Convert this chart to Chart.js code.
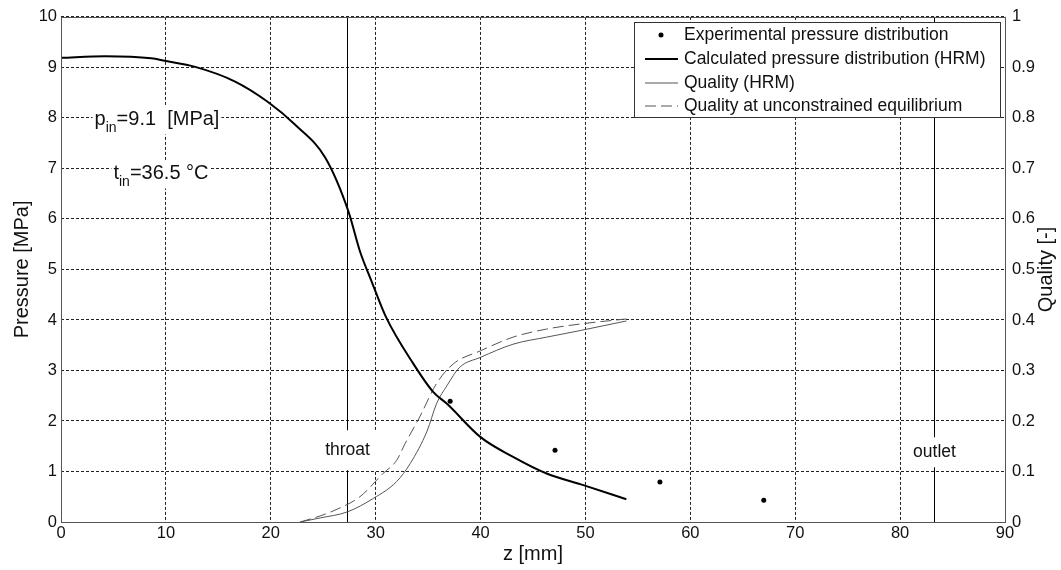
<!DOCTYPE html>
<html>
<head>
<meta charset="utf-8">
<script src="https://cdn.jsdelivr.net/npm/chart.js@4/dist/chart.umd.min.js"></script>
<style>
  html, body { margin: 0; padding: 0; background: #fff; }
  #wrap { width: 1061px; height: 570px; }
</style>
</head>
<body>
<div id="wrap"><canvas id="nozzle-chart" width="1061" height="570"></canvas></div>
<script>
// calculated pressure distribution (HRM)
const zPressure = [0, 4.2, 8.6, 9.9, 12.8, 16.6, 19.7, 22.3, 25.2, 27.4, 28.5, 29.6, 31.0, 33.6, 35.5, 36.8, 40.0, 43.1, 46.3, 49.8, 53.9]
const pressureHRM = [9.19, 9.22, 9.18, 9.13, 9.01, 8.72, 8.32, 7.87, 7.21, 6.15, 5.36, 4.77, 4.05, 3.13, 2.57, 2.34, 1.68, 1.29, 0.96, 0.73, 0.45]

// experimental pressure
const zExperiment = [37.1, 47.1, 57.1, 67.0]
const pressureExperiment = [2.39, 1.42, 0.79, 0.43]

// quality (HRM)
const zQuality = [22.8, 24.7, 27.3, 29.8, 32.0, 33.3, 34.9, 35.8, 36.8, 38.0, 40.0, 43.1, 46.3, 49.5, 53.9]
const qualityHRM = [0, 0.008, 0.02, 0.047, 0.08, 0.116, 0.18, 0.234, 0.27, 0.306, 0.326, 0.352, 0.366, 0.379, 0.398]

// quality at unconstrained equilibrium
const zEquilibrium = [22.8, 24.7, 26.4, 28.5, 30.7, 32.0, 32.8, 34.2, 35.8, 37.4, 40.0, 43.1, 46.3, 49.5, 53.9]
const qualityEquilibrium = [0, 0.012, 0.026, 0.05, 0.096, 0.122, 0.155, 0.208, 0.274, 0.313, 0.339, 0.366, 0.382, 0.392, 0.402]

const markerZ = [27.3, 83.2]
const markerLabels = ['throat', 'outlet']

const FONT = '"Liberation Sans", Arial, sans-serif'

function points(xs, ys) {
  return xs.map((x, i) => ({ x: x, y: ys[i] }))
}

const overlay = {
  id: 'overlay',
  beforeDatasetsDraw(chart) {
    const { ctx, chartArea: a, scales: { x, y } } = chart
    ctx.save()
    const labelP = [1.42, 1.38]
    const boxes = [{ px: 33, py: 20 }, { px: 30, py: 15 }]
    markerZ.forEach((z, i) => {
      const px = Math.round(x.getPixelForValue(z)) + 0.5
      ctx.strokeStyle = '#000'
      ctx.lineWidth = 1
      ctx.setLineDash([])
      ctx.beginPath()
      ctx.moveTo(px, a.top)
      ctx.lineTo(px, a.bottom)
      ctx.stroke()
      const cy = y.getPixelForValue(labelP[i])
      ctx.fillStyle = '#fff'
      ctx.fillRect(px - boxes[i].px, cy - boxes[i].py, boxes[i].px * 2, boxes[i].py * 2)
      ctx.font = '17.5px ' + FONT
      ctx.fillStyle = '#111'
      ctx.textAlign = 'center'
      ctx.textBaseline = 'middle'
      ctx.fillText(markerLabels[i], px, cy)
    })
    ctx.restore()
  },
  afterDraw(chart) {
    const { ctx, chartArea: a, scales: { x, y } } = chart
    ctx.save()
    ctx.setLineDash([])

    // inlet conditions
    const notes = [
      { z: 3.2, p: 7.97, main: 'p', sub: 'in', rest: '=9.1  [MPa]' },
      { z: 5.0, p: 6.9, main: 't', sub: 'in', rest: '=36.5 \u00b0C' }
    ]
    ctx.textBaseline = 'middle'
    ctx.textAlign = 'left'
    notes.forEach(n => {
      const lx = x.getPixelForValue(n.z)
      const cy = y.getPixelForValue(n.p)
      ctx.font = '20px ' + FONT
      const w1 = ctx.measureText(n.main).width
      const w3 = ctx.measureText(n.rest).width
      ctx.font = '14px ' + FONT
      const w2 = ctx.measureText(n.sub).width
      ctx.fillStyle = '#fff'
      ctx.fillRect(lx - 2, cy - 13, w1 + w2 + w3 + 4, 28)
      ctx.fillStyle = '#111'
      ctx.font = '20px ' + FONT
      ctx.fillText(n.main, lx, cy)
      ctx.font = '14px ' + FONT
      ctx.fillText(n.sub, lx + w1, cy + 9)
      ctx.font = '20px ' + FONT
      ctx.fillText(n.rest, lx + w1 + w2, cy)
    })

    // plot box
    ctx.strokeStyle = '#555'
    ctx.lineWidth = 1
    ctx.strokeRect(Math.round(a.left) + 0.5, Math.round(a.top) + 0.5, Math.round(a.width), Math.round(a.height))

    // legend
    const lx = 634.5, ly = 22.5, lw = 366, lh = 95
    ctx.fillStyle = '#fff'
    ctx.fillRect(lx, ly, lw, lh)
    ctx.strokeStyle = '#333'
    ctx.strokeRect(lx, ly, lw, lh)
    const rows = [35, 59, 83, 106]
    const order = [1, 0, 2, 3]
    ctx.font = '17.5px ' + FONT
    ctx.textBaseline = 'middle'
    ctx.textAlign = 'left'
    order.forEach((di, r) => {
      const ds = chart.data.datasets[di]
      const ry = rows[r]
      if (ds.showLine === false) {
        ctx.fillStyle = ds.pointBackgroundColor
        ctx.beginPath()
        ctx.arc(661, ry, 2.5, 0, Math.PI * 2)
        ctx.fill()
      } else {
        ctx.strokeStyle = ds.borderColor
        ctx.lineWidth = ds.borderWidth
        ctx.setLineDash(ds.borderDash || [])
        ctx.beginPath()
        ctx.moveTo(645, ry)
        ctx.lineTo(678, ry)
        ctx.stroke()
        ctx.setLineDash([])
      }
      ctx.fillStyle = '#111'
      ctx.fillText(ds.label, 684, ry)
    })

    // right axis title, reading bottom to top
    ctx.translate(1046, (a.top + a.bottom) / 2)
    ctx.rotate(-Math.PI / 2)
    ctx.font = '20px ' + FONT
    ctx.textAlign = 'center'
    ctx.textBaseline = 'middle'
    ctx.fillStyle = '#111'
    ctx.fillText('Quality [-]', 0, 0)
    ctx.restore()
  }
}

const ctx = document.getElementById('nozzle-chart').getContext('2d')
const chart = new Chart(ctx, {
  type: 'line',
  data: {
    datasets: [
      {
        label: 'Calculated pressure distribution (HRM)',
        data: points(zPressure, pressureHRM),
        borderColor: '#000',
        borderWidth: 2,
        pointRadius: 0,
        cubicInterpolationMode: 'monotone',
        yAxisID: 'y'
      },
      {
        label: 'Experimental pressure distribution',
        data: points(zExperiment, pressureExperiment),
        showLine: false,
        pointRadius: 2.5,
        pointBackgroundColor: '#000',
        pointBorderWidth: 0,
        borderColor: '#000',
        yAxisID: 'y'
      },
      {
        label: 'Quality (HRM)',
        data: points(zQuality, qualityHRM),
        borderColor: '#555',
        borderWidth: 1,
        pointRadius: 0,
        cubicInterpolationMode: 'monotone',
        yAxisID: 'y1'
      },
      {
        label: 'Quality at unconstrained equilibrium',
        data: points(zEquilibrium, qualityEquilibrium),
        borderColor: '#555',
        borderWidth: 1,
        borderDash: [11, 5],
        pointRadius: 0,
        cubicInterpolationMode: 'monotone',
        yAxisID: 'y1'
      }
    ]
  },
  options: {
    responsive: false,
    animation: false,
    layout: { padding: { top: 15, left: 0, right: 0, bottom: 0 } },
    scales: {
      x: {
        type: 'linear',
        min: 0,
        max: 90,
        ticks: { stepSize: 10, color: '#111', padding: 2, font: { family: FONT, size: 16.5 } },
        grid: { color: '#222', tickLength: 0 },
        border: { display: false, dash: [3, 2] },
        title: { display: true, text: 'z [mm]', color: '#111', padding: { top: 0 }, font: { family: FONT, size: 20 } },
        afterFit: s => { s.height = 48 }
      },
      y: {
        min: 0,
        max: 10,
        ticks: { stepSize: 1, color: '#111', padding: 4, font: { family: FONT, size: 16.5 } },
        grid: { color: '#222', tickLength: 0 },
        border: { display: false, dash: [3, 2] },
        title: { display: true, text: 'Pressure [MPa]', color: '#111', padding: { top: 10, bottom: 0 }, font: { family: FONT, size: 20 } },
        afterFit: s => { s.width = 61 }
      },
      y1: {
        position: 'right',
        min: 0,
        max: 1,
        ticks: {
          stepSize: 0.1,
          color: '#111',
          padding: 7,
          font: { family: FONT, size: 16.5 },
          callback: v => String(Number(v.toFixed(1)))
        },
        grid: { drawOnChartArea: false, tickLength: 0 },
        border: { display: false },
        afterFit: s => { s.width = 56 }
      }
    },
    plugins: {
      legend: { display: false },
      tooltip: { enabled: false }
    }
  },
  plugins: [overlay]
})
</script>
</body>
</html>
